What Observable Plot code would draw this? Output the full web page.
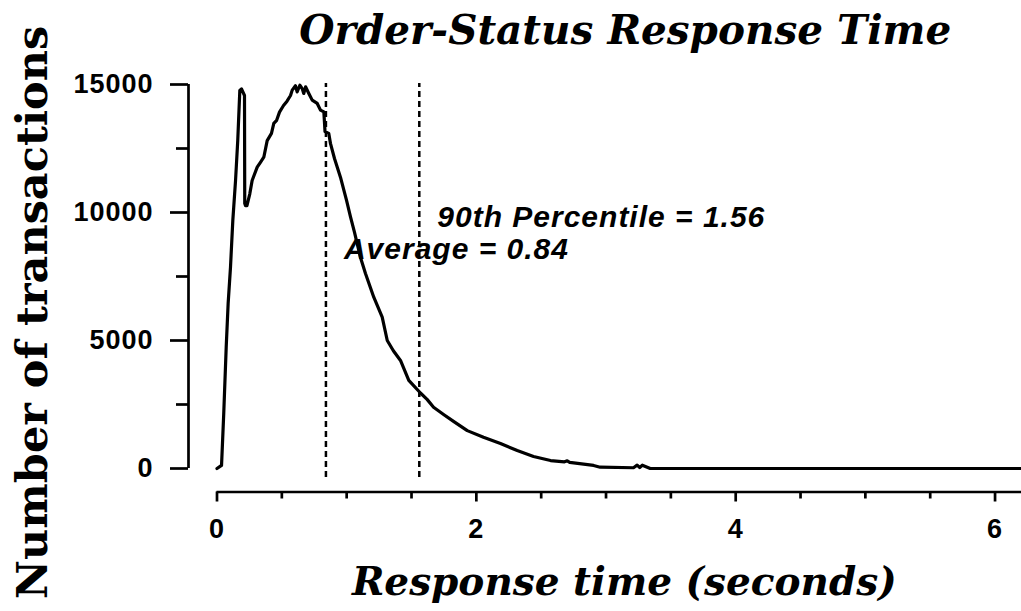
<!DOCTYPE html>
<html><head><meta charset="utf-8">
<script src="https://cdn.jsdelivr.net/npm/d3@7"></script>
<script src="https://cdn.jsdelivr.net/npm/@observablehq/plot@0.6"></script>
<style>html,body{margin:0;padding:0;background:#fff}svg{display:block}</style>
</head><body><div id="chart"></div>
<script>
const responseTime = [0, 0.035, 0.052, 0.071, 0.086, 0.104, 0.122, 0.143, 0.160, 0.176, 0.189, 0.212, 0.214, 0.220, 0.231, 0.253, 0.271, 0.310, 0.335, 0.361, 0.387, 0.420, 0.438, 0.460, 0.482, 0.513, 0.540, 0.567, 0.580, 0.605, 0.618, 0.639, 0.657, 0.669, 0.683, 0.708, 0.734, 0.773, 0.798, 0.824, 0.833, 0.862, 0.875, 0.906, 0.952, 0.999, 1.030, 1.060, 1.106, 1.145, 1.209, 1.274, 1.313, 1.360, 1.415, 1.479, 1.569, 1.620, 1.670, 1.750, 1.824, 1.930, 2.055, 2.186, 2.315, 2.441, 2.572, 2.680, 2.701, 2.720, 2.904, 2.955, 3.212, 3.240, 3.260, 3.280, 3.341, 6.204];
const transactions = [0, 120, 2150, 4740, 6450, 7860, 9690, 11250, 12810, 14770, 14830, 14570, 10350, 10270, 10270, 10730, 11250, 11770, 11960, 12160, 12810, 13090, 13480, 13600, 13920, 14180, 14350, 14570, 14780, 14950, 14710, 14970, 14840, 14650, 14910, 14650, 14390, 14260, 14000, 13930, 13160, 13090, 12700, 12110, 11380, 10470, 9820, 9230, 8250, 7620, 6690, 5910, 5000, 4600, 4220, 3440, 2950, 2700, 2390, 2100, 1840, 1480, 1220, 980, 700, 470, 310, 260, 300, 240, 120, 50, 30, 130, 40, 130, 0, 0];

const xMajorTicks = [0, 2, 4, 6];
const xMinorTicks = [0.5, 1, 1.5, 2.5, 3, 3.5, 4.5, 5, 5.5];
const yMajorTicks = [0, 5000, 10000, 15000];
const yMinorTicks = [2500, 7500, 12500];
const markerValues = [0.84, 1.56];
const markerLabels = ["Average = 0.84", "90th Percentile = 1.56"];
const chartTitle = "Order-Status Response Time";
const xLabel = "Response time (seconds)";
const yLabel = "Number of transactions";

const data = responseTime.map((t, i) => ({t, n: transactions[i]}));
const markers = markerValues.map((v, i) => ({v, label: markerLabels[i]}));

const sans = "Liberation Sans, Arial, Helvetica, sans-serif";
const serif = "DejaVu Serif, serif";
const axisDy = 23.5, axisDx = -28.5;

const chart = Plot.plot({
  width: 1021, height: 611,
  marginLeft: 216.5, marginRight: 0, marginTop: 84, marginBottom: 143,
  x: {domain: [0, 6.204]},
  y: {domain: [0, 15000]},
  style: {background: "white", color: "black", overflow: "visible"},
  marks: [
    // y axis
    Plot.ruleX([0], {y1: 0, y2: 15000, dx: axisDx, stroke: "black", strokeWidth: 2.7}),
    Plot.axisY({ticks: yMajorTicks, tickSize: 18, tickPadding: 17, dx: axisDx, strokeWidth: 2.7,
      fontFamily: sans, fontWeight: "bold", fontSize: 27, tickFormat: d => String(d), label: null}),
    Plot.axisY({ticks: yMinorTicks, tickSize: 12, dx: axisDx, strokeWidth: 2.7, text: null, label: null}),
    // x axis
    Plot.ruleY([0], {dy: axisDy, stroke: "black", strokeWidth: 2.7}),
    Plot.axisX({ticks: xMajorTicks, tickSize: 10, tickPadding: 17, dy: axisDy, strokeWidth: 2.7,
      fontFamily: sans, fontWeight: "bold", fontSize: 27, tickFormat: d => String(d), label: null}),
    Plot.axisX({ticks: xMinorTicks, tickSize: 7, dy: axisDy, strokeWidth: 2.7, text: null, label: null}),
    // marker lines
    Plot.ruleX(markers, {x: "v", y1: -350, y2: 15040, stroke: "black", strokeWidth: 2.5, strokeDasharray: "6,4"}),
    // curve
    Plot.line(data, {x: "t", y: "n", stroke: "black", strokeWidth: 3.2, strokeLinejoin: "round"}),
    // annotations
    Plot.text(markers.filter(d => d.v === 1.56), {x: "v", y: 9426, text: "label", dx: 18, textAnchor: "start", lineAnchor: "bottom",
      fontFamily: sans, fontWeight: "bold", fontStyle: "italic", fontSize: 30, fill: "black"}),
    Plot.text(markers.filter(d => d.v === 0.84), {x: "v", y: 8190, text: "label", dx: 18, textAnchor: "start", lineAnchor: "bottom",
      fontFamily: sans, fontWeight: "bold", fontStyle: "italic", fontSize: 30, fill: "black"}),
    // titles
    Plot.text([chartTitle], {text: d => d, frameAnchor: "top", textAnchor: "middle", dx: 6, dy: -41, lineAnchor: "bottom",
      fontFamily: serif, fontWeight: "bold", fontStyle: "italic", fontSize: 40.5, fill: "black"}),
    Plot.text([xLabel], {text: d => d, frameAnchor: "bottom", textAnchor: "middle", dx: 5, dy: 126, lineAnchor: "bottom",
      fontFamily: serif, fontWeight: "bold", fontStyle: "italic", fontSize: 39, fill: "black"}),
    Plot.text([yLabel], {text: d => d, frameAnchor: "left", textAnchor: "middle", dx: -170.5, dy: 36, rotate: -90, lineAnchor: "bottom",
      fontFamily: serif, fontWeight: "bold", fontSize: 43, fill: "black"})
  ]
});

const svg = d3.select(chart);
svg.selectAll("g[aria-label='y-axis tick label'] text, g[aria-label='x-axis tick label'] text").attr("letter-spacing", "1px");
svg.selectAll("g[aria-label='text'] text").filter(function(){ return /=/.test(this.textContent); }).attr("letter-spacing", "1px");
document.getElementById("chart").appendChild(chart);
</script>
</body></html>
